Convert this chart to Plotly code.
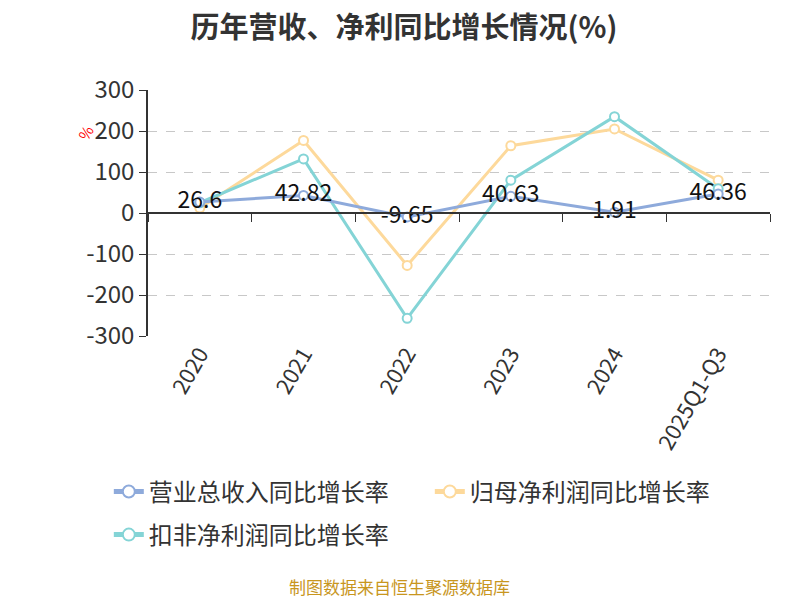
import plotly.graph_objects as go

years = ['2020', '2021', '2022', '2023', '2024', '2025Q1-Q3']
revenue_yoy = [26.6, 42.82, -9.65, 40.63, 1.91, 46.36]
parent_profit_yoy = [12, 177, -128, 164, 205, 80]
deducted_profit_yoy = [25, 132, -257, 80, 235, 59]

y_ticks = [300, 200, 100, 0, -100, -200, -300]
y_tick_text = ['300', '200', '100', '0', '-100', '-200', '-300']

names = ['营业总收入同比增长率', '归母净利润同比增长率', '扣非净利润同比增长率']
colors = ['#8eaadb', '#fdd99b', '#84d4d6']
legends = ['legend', 'legend', 'legend2']

font = 'Noto Sans CJK SC'

# the page has an 8px body margin, so the figure is sized to fit what is left
W, H = 792, 592

fig = go.Figure()
series = list(zip(names, [revenue_yoy, parent_profit_yoy, deducted_profit_yoy], colors, legends))
# draw the labelled series last so its numbers sit on top
for rank, (name, vals, c, lg) in sorted(enumerate(series), key=lambda t: t[0] == 0):
    show_text = rank == 0
    fig.add_trace(go.Scatter(
        x=years, y=vals, name=name, legendrank=rank + 1, legend=lg,
        mode='lines+markers+text' if show_text else 'lines+markers',
        text=[str(v) for v in vals] if show_text else None,
        textposition='middle center',
        textfont=dict(size=23, color='#111', family=font),
        line=dict(color=c, width=3),
        marker=dict(size=9, color='white', line=dict(color=c, width=2)),
    ))

# invisible trace for the zero-line axis
fig.add_trace(go.Scatter(x=years, y=[0] * 6, xaxis='x2', mode='markers',
                         marker=dict(opacity=0), showlegend=False, hoverinfo='skip'))

legend_style = dict(orientation='h', xanchor='left', yanchor='middle',
                    font=dict(size=24, color='#333'), entrywidth=276, itemsizing='constant')

fig.update_layout(
    width=W, height=H,
    paper_bgcolor='white', plot_bgcolor='white',
    margin=dict(l=140, r=30, t=82, b=264, autoexpand=False),
    font=dict(family=font, color='#333'),
    title=dict(text='<b>历年营收、净利同比增长情况(%)</b>', x=0.5, xanchor='center',
               y=1 - 20 / H, yanchor='middle', font=dict(size=29, color='#333')),
    xaxis=dict(type='category', categoryorder='array', categoryarray=years,
               range=[-0.5, 5.5], showline=False, showgrid=False, ticks='',
               tickangle=-60, tickfont=dict(size=22, color='#333')),
    xaxis2=dict(type='category', categoryorder='array', categoryarray=years,
                overlaying='x', anchor='free', position=0.5,
                range=[-0.5, 5.5], showline=True, linecolor='#333', linewidth=2,
                ticks='outside', tickson='boundaries', ticklen=8, tickcolor='#333',
                showticklabels=False, showgrid=False),
    yaxis=dict(range=[-300, 300], tickvals=y_ticks, ticktext=y_tick_text,
               showline=True, linecolor='#333', linewidth=1.5,
               ticks='outside', ticklen=7, tickcolor='#333', zeroline=False,
               gridcolor='#c8c8c8', griddash='dash', tickfont=dict(size=24, color='#333')),
    legend=dict(x=-0.063, y=-0.634, **legend_style),
    legend2=dict(x=-0.063, y=-0.809, **legend_style),
    annotations=[
        dict(text='%', xref='paper', yref='paper', x=-0.101, y=0.829, showarrow=False,
             xanchor='center', yanchor='middle',
             textangle=-60, font=dict(size=15, color='red')),
        dict(text='制图数据来自恒生聚源数据库', xref='paper', yref='paper', x=0.405, y=-1.02,
             xanchor='center', yanchor='middle', showarrow=False,
             font=dict(size=17, color='#c8961e')),
    ],
)

fig.write_html('out.html')
